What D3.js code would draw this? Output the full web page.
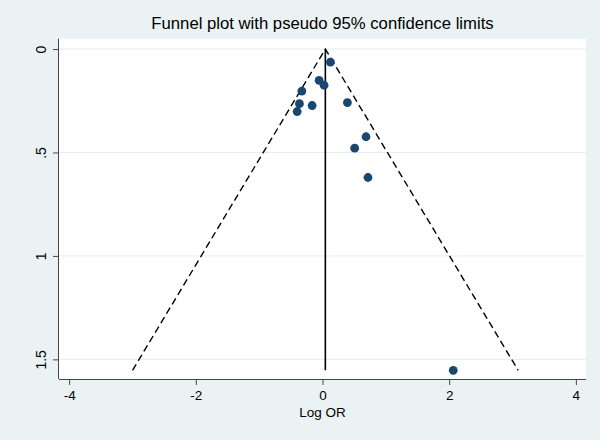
<!DOCTYPE html>
<html>
<head>
<meta charset="utf-8">
<script src="https://cdn.jsdelivr.net/npm/d3@7"></script>
<style>
  html, body { margin: 0; padding: 0; background: #eaf2f3; }
  svg { display: block; }
  text { font-family: "Liberation Sans", Arial, Helvetica, sans-serif; }
</style>
</head>
<body>
<div id="chart"></div>
<script>
// Study estimates (log odds ratio) and their standard errors
const logOR = [0.125, -0.054, 0.025, -0.326, -0.364, -0.164, -0.400, 0.393, 0.687, 0.508, 0.718, 2.064];
const se    = [0.063, 0.151, 0.175, 0.203, 0.264, 0.273, 0.302, 0.259, 0.424, 0.479, 0.621, 1.553];
const pooled = 0.045;
const xTicks = [-4, -2, 0, 2, 4];
const xTickLabels = ["-4", "-2", "0", "2", "4"];
const yTicks = [0, 0.5, 1, 1.5];
const yTickLabels = ["0", ".5", "1", "1.5"];
const titleText = "Funnel plot with pseudo 95% confidence limits";
const xTitle = "Log OR";

const W = 600, H = 440;
const plot = { left: 59, right: 586, top: 38.7, bottom: 379 };

const svg = d3.select("#chart").append("svg").attr("width", W).attr("height", H);
svg.append("rect").attr("width", W).attr("height", H).attr("fill", "#eaf2f3");

const x = d3.scaleLinear().domain([-4.16, 4.16]).range([plot.left, plot.right]);
const y = d3.scaleLinear().domain([-0.05, 1.595]).range([plot.top, plot.bottom]);

// plot region
svg.append("rect")
  .attr("x", plot.left).attr("y", plot.top)
  .attr("width", plot.right - plot.left).attr("height", plot.bottom - plot.top)
  .attr("fill", "#ffffff");

// grid lines
svg.append("g").selectAll("line").data(yTicks).join("line")
  .attr("x1", plot.left).attr("x2", plot.right)
  .attr("y1", d => y(d)).attr("y2", d => y(d))
  .attr("stroke", "#e4edf0").attr("stroke-width", 1);

// funnel
const seMax = d3.max(se);
const lineGen = d3.line().x(d => x(d[0])).y(d => y(d[1]));
svg.append("path")
  .attr("d", lineGen([[pooled - 1.96 * seMax, seMax], [pooled, 0], [pooled + 1.96 * seMax, seMax]]))
  .attr("fill", "none").attr("stroke", "#000").attr("stroke-width", 1.4)
  .attr("stroke-dasharray", "7,4");
svg.append("path")
  .attr("d", lineGen([[pooled, 0], [pooled, seMax]]))
  .attr("fill", "none").attr("stroke", "#000").attr("stroke-width", 1.6);

// points
svg.append("g").selectAll("circle").data(logOR.map((v, i) => [v, se[i]])).join("circle")
  .attr("cx", d => x(d[0])).attr("cy", d => y(d[1]))
  .attr("r", 4.4).attr("fill", "#1a476f");

// axes
const xAxis = d3.axisBottom(x).tickValues(xTicks)
  .tickFormat((d, i) => xTickLabels[i]).tickSize(6).tickPadding(5);
const gx = svg.append("g").attr("transform", `translate(0,${plot.bottom})`).call(xAxis);
gx.select(".domain").attr("d", `M${plot.left},0.5H${plot.right}`).attr("stroke", "#444");
gx.selectAll(".tick line").attr("stroke", "#444");
gx.selectAll(".tick text").attr("font-size", 13.5).attr("fill", "#000")
  .attr("font-family", "'Liberation Sans', Arial, sans-serif");

const yAxis = d3.axisLeft(y).tickValues(yTicks)
  .tickFormat((d, i) => yTickLabels[i]).tickSize(6);
const gy = svg.append("g").attr("transform", `translate(${plot.left},0)`).call(yAxis);
gy.select(".domain").attr("d", `M-0.5,${plot.top}V${plot.bottom}`).attr("stroke", "#444");
gy.selectAll(".tick line").attr("stroke", "#444");
gy.selectAll(".tick text")
  .attr("x", null).attr("dy", null)
  .attr("transform", "translate(-13,0) rotate(-90)")
  .attr("text-anchor", "middle")
  .attr("font-size", 14).attr("fill", "#000")
  .attr("font-family", "'Liberation Sans', Arial, sans-serif");

// titles
svg.append("text").attr("x", (plot.left + plot.right) / 2).attr("y", 29)
  .attr("text-anchor", "middle").attr("font-size", 16.7).attr("fill", "#000")
  .text(titleText);
svg.append("text").attr("x", x(0)).attr("y", 417)
  .attr("text-anchor", "middle").attr("font-size", 13.5).attr("fill", "#000")
  .text(xTitle);
</script>
</body>
</html>
